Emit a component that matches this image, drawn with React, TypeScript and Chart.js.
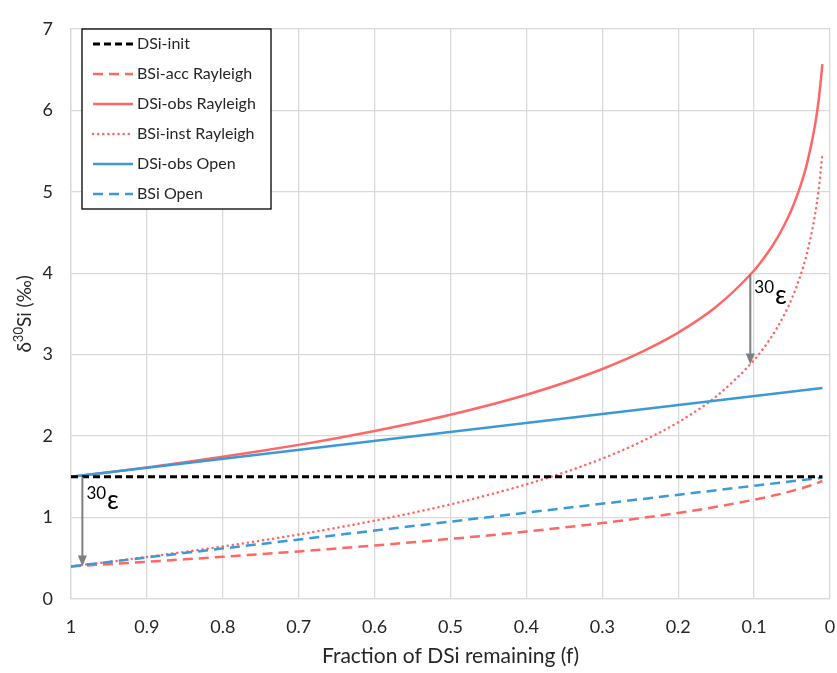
import React, { useEffect, useRef } from "react";
import { Chart, registerables } from "chart.js";

Chart.register(...registerables);

// ---- data ----
const F_RAYLEIGH = [1, 0.95, 0.9, 0.85, 0.8, 0.75, 0.7, 0.65, 0.6, 0.55, 0.5, 0.45, 0.4, 0.35, 0.3, 0.25, 0.2, 0.15, 0.1, 0.09, 0.08, 0.07, 0.06, 0.05, 0.04, 0.03, 0.02, 0.015, 0.01];
const DSI_OBS_RAYLEIGH = [1.5, 1.556, 1.616, 1.679, 1.745, 1.816, 1.892, 1.974, 2.062, 2.158, 2.262, 2.378, 2.508, 2.655, 2.824, 3.025, 3.27, 3.587, 4.033, 4.149, 4.278, 4.425, 4.595, 4.795, 5.041, 5.357, 5.803, 6.12, 6.566];
const BSI_INST_RAYLEIGH = [0.4, 0.456, 0.516, 0.579, 0.645, 0.716, 0.792, 0.874, 0.962, 1.058, 1.162, 1.278, 1.408, 1.555, 1.724, 1.925, 2.17, 2.487, 2.933, 3.049, 3.178, 3.325, 3.495, 3.695, 3.941, 4.257, 4.703, 5.02, 5.466];
const BSI_ACC_RAYLEIGH = [0.4, 0.428, 0.457, 0.487, 0.518, 0.551, 0.584, 0.62, 0.657, 0.696, 0.738, 0.781, 0.828, 0.878, 0.932, 0.992, 1.057, 1.132, 1.219, 1.238, 1.258, 1.28, 1.302, 1.327, 1.352, 1.381, 1.412, 1.43, 1.449];
const F_OPEN = [1, 0.01];
const DSI_OBS_OPEN = [1.5, 2.589];
const BSI_OPEN = [0.4, 1.489];
const DSI_INIT = [1.5, 1.5];

const SERIES_LABELS = ["DSi-init", "BSi-acc Rayleigh", "DSi-obs Rayleigh", "BSi-inst Rayleigh", "DSi-obs Open", "BSi Open"];
const X_TICK_VALUES = [0, 0.1, 0.2, 0.3, 0.4, 0.5, 0.6, 0.7, 0.8, 0.9, 1];
const X_TICK_LABELS = ["0", "0.1", "0.2", "0.3", "0.4", "0.5", "0.6", "0.7", "0.8", "0.9", "1"];
const Y_TICK_VALUES = [0, 1, 2, 3, 4, 5, 6, 7];
const X_TITLE = "Fraction of DSi remaining (f)";
const Y_TITLE_PARTS = ["δ", "30", "Si (‰)"];
const EPS_LABEL = ["30", "ε"];
// annotation arrows: x position, from y, to y, label y
const ARROW_X = [0.985, 0.105];
const ARROW_FROM = [1.5, 3.98];
const ARROW_TO = [0.4, 2.88];
const EPS_LABEL_Y = [1.3, 3.82];

const RED = "#ff6666";
const BLUE = "#3b9ad6";
const GRID = "#d9d9d9";
const TEXT = "#262626";
const FONT = "Lato, 'Open Sans', sans-serif";

const pts = (xs: number[], ys: number[]) => xs.map((x, i) => ({ x, y: ys[i] }));

const overlayPlugin = {
  id: "overlay",
  afterDatasetsDraw(chart: any) {
    const { ctx, scales } = chart;
    const xs = scales.x;
    const ys = scales.y;
    ctx.save();

    // arrows + epsilon labels
    ARROW_X.forEach((ax, i) => {
      const px = xs.getPixelForValue(ax);
      const y1 = ys.getPixelForValue(ARROW_FROM[i]);
      const y2 = ys.getPixelForValue(ARROW_TO[i]);
      ctx.strokeStyle = "#7f7f7f";
      ctx.fillStyle = "#7f7f7f";
      ctx.lineWidth = 2;
      ctx.setLineDash([]);
      ctx.beginPath();
      ctx.moveTo(px, y1);
      ctx.lineTo(px, y2 - 9);
      ctx.stroke();
      ctx.beginPath();
      ctx.moveTo(px, y2);
      ctx.lineTo(px - 4.5, y2 - 11);
      ctx.lineTo(px + 4.5, y2 - 11);
      ctx.closePath();
      ctx.fill();
      // label
      const lx = px + 4;
      const ly = ys.getPixelForValue(EPS_LABEL_Y[i]);
      ctx.fillStyle = "#000";
      ctx.textBaseline = "middle";
      ctx.textAlign = "left";
      ctx.font = `17px ${FONT}`;
      ctx.fillText(EPS_LABEL[0], lx, ly);
      const w = ctx.measureText(EPS_LABEL[0]).width;
      ctx.font = `26px ${FONT}`;
      ctx.fillText(EPS_LABEL[1], lx + w + 1, ly + 8);
    });

    // y title (with superscript)
    const cx = 25;
    const cy = (chart.chartArea.top + chart.chartArea.bottom) / 2;
    ctx.translate(cx, cy);
    ctx.rotate(-Math.PI / 2);
    ctx.fillStyle = TEXT;
    ctx.textBaseline = "middle";
    ctx.textAlign = "left";
    const big = `19px ${FONT}`;
    const small = `13px ${FONT}`;
    ctx.font = big;
    const w0 = ctx.measureText(Y_TITLE_PARTS[0]).width;
    const w2 = ctx.measureText(Y_TITLE_PARTS[2]).width;
    ctx.font = small;
    const w1 = ctx.measureText(Y_TITLE_PARTS[1]).width;
    let tx = -(w0 + w1 + w2) / 2;
    ctx.font = big;
    ctx.fillText(Y_TITLE_PARTS[0], tx, 0);
    tx += w0;
    ctx.font = small;
    ctx.fillText(Y_TITLE_PARTS[1], tx, -6);
    tx += w1;
    ctx.font = big;
    ctx.fillText(Y_TITLE_PARTS[2], tx, 0);
    ctx.setTransform(1, 0, 0, 1, 0, 0);

    // legend
    const bx = 82, by = 29, bw = 189, bh = 180;
    ctx.fillStyle = "#fff";
    ctx.fillRect(bx, by, bw, bh);
    ctx.strokeStyle = "#000";
    ctx.lineWidth = 1.3;
    ctx.strokeRect(bx, by, bw, bh);
    chart.data.datasets.forEach((ds: any, i: number) => {
      const ry = by + 15 + i * 30;
      ctx.strokeStyle = ds.borderColor;
      ctx.lineWidth = ds.borderWidth;
      ctx.lineCap = ds.borderCapStyle || "butt";
      ctx.setLineDash(ds.borderDash || []);
      ctx.beginPath();
      ctx.moveTo(93, ry);
      ctx.lineTo(133, ry);
      ctx.stroke();
      ctx.setLineDash([]);
      ctx.lineCap = "butt";
      ctx.fillStyle = TEXT;
      ctx.font = `16px ${FONT}`;
      ctx.textBaseline = "middle";
      ctx.textAlign = "left";
      ctx.fillText(ds.label, 137, ry);
    });
    ctx.restore();
  },
};

export default function App() {
  const ref = useRef<HTMLCanvasElement | null>(null);
  useEffect(() => {
    document.body.style.margin = "0";
    const canvas = ref.current!;
    const common = { pointRadius: 0, pointHoverRadius: 0, fill: false, tension: 0 };
    const chart = new Chart(canvas, {
      type: "line",
      data: {
        datasets: [
          { ...common, label: SERIES_LABELS[0], data: pts(F_OPEN, DSI_INIT), borderColor: "#000", borderWidth: 3, borderDash: [7, 4], order: 0 },
          { ...common, label: SERIES_LABELS[1], data: pts(F_RAYLEIGH, BSI_ACC_RAYLEIGH), borderColor: RED, borderWidth: 2.5, borderDash: [10, 6], cubicInterpolationMode: "monotone", order: 2 },
          { ...common, label: SERIES_LABELS[2], data: pts(F_RAYLEIGH, DSI_OBS_RAYLEIGH), borderColor: RED, borderWidth: 2.5, cubicInterpolationMode: "monotone", order: 2 },
          { ...common, label: SERIES_LABELS[3], data: pts(F_RAYLEIGH, BSI_INST_RAYLEIGH), borderColor: RED, borderWidth: 2.5, borderDash: [0.1, 5], borderCapStyle: "round", cubicInterpolationMode: "monotone", order: 2 },
          { ...common, label: SERIES_LABELS[4], data: pts(F_OPEN, DSI_OBS_OPEN), borderColor: BLUE, borderWidth: 2.5, order: 1 },
          { ...common, label: SERIES_LABELS[5], data: pts(F_OPEN, BSI_OPEN), borderColor: BLUE, borderWidth: 2.5, borderDash: [10, 6], order: 1 },
        ] as any,
      },
      options: {
        animation: false,
        responsive: false,
        maintainAspectRatio: false,
        layout: { padding: { top: 18, right: 7, left: 0, bottom: 0 } },
        plugins: { legend: { display: false }, tooltip: { enabled: false } },
        scales: {
          x: {
            type: "linear",
            reverse: true,
            min: 0,
            max: 1,
            afterBuildTicks: (s: any) => {
              s.ticks = X_TICK_VALUES.map((v) => ({ value: v }));
            },
            afterFit: (s: any) => {
              s.height = 74;
            },
            ticks: {
              autoSkip: false,
              maxRotation: 0,
              padding: 17,
              color: TEXT,
              font: { family: FONT, size: 18 },
              callback: (v: any) => X_TICK_LABELS[X_TICK_VALUES.findIndex((t) => Math.abs(t - v) < 1e-6)] ?? "",
            },
            grid: { color: GRID, lineWidth: 1.3, drawTicks: false },
            border: { color: GRID, width: 1.3 },
            title: { display: true, text: X_TITLE, color: TEXT, font: { family: FONT, size: 21 }, padding: { top: 0, bottom: 4 } },
          },
          y: {
            type: "linear",
            min: 0,
            max: 7,
            afterBuildTicks: (s: any) => {
              s.ticks = Y_TICK_VALUES.map((v) => ({ value: v }));
            },
            afterFit: (s: any) => {
              s.width = 71;
            },
            ticks: { padding: 18, color: TEXT, font: { family: FONT, size: 18 } },
            grid: { color: GRID, lineWidth: 1.3, drawTicks: false },
            border: { color: GRID, width: 1.3 },
          },
        },
      } as any,
      plugins: [overlayPlugin],
    });
    return () => chart.destroy();
  }, []);
  return (
    <div style={{ width: 837, height: 673, background: "#fff" }}>
      <canvas ref={ref} width={837} height={673} style={{ display: "block" }} />
    </div>
  );
}
